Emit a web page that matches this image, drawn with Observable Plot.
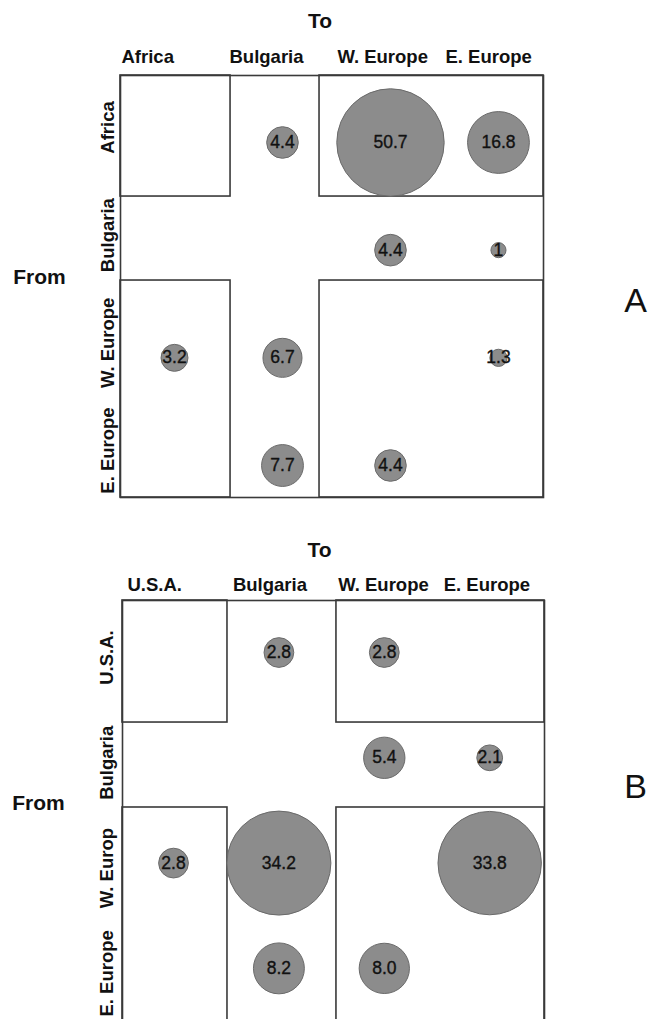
<!DOCTYPE html>
<html><head><meta charset="utf-8">
<script src="https://cdn.jsdelivr.net/npm/d3@7"></script>
<script src="https://cdn.jsdelivr.net/npm/@observablehq/plot@0.6"></script>
<style>
html,body{margin:0;padding:0;background:#fff;overflow:hidden}
#chart svg{display:block;overflow:hidden !important;background:#fff}
</style></head><body><div id="chart"></div>
<script>
// ---- Panel A data ----
const colsA = ["Africa", "Bulgaria", "W. Europe", "E. Europe"];
const rowsA = ["Africa", "Bulgaria", "W. Europe", "E. Europe"];
const fromA = ["Africa", "Africa", "Africa", "Bulgaria", "Bulgaria", "W. Europe", "W. Europe", "W. Europe", "E. Europe", "E. Europe"];
const toA   = ["Bulgaria", "W. Europe", "E. Europe", "W. Europe", "E. Europe", "Africa", "Bulgaria", "E. Europe", "Bulgaria", "W. Europe"];
const valuesA = ["4.4", "50.7", "16.8", "4.4", "1", "3.2", "6.7", "1.3", "7.7", "4.4"];

// ---- Panel B data ----
const colsB = ["U.S.A.", "Bulgaria", "W. Europe", "E. Europe"];
const rowsB = ["U.S.A.", "Bulgaria", "W. Europ", "E. Europe"];
const fromB = ["U.S.A.", "U.S.A.", "Bulgaria", "Bulgaria", "W. Europ", "W. Europ", "W. Europ", "E. Europe", "E. Europe"];
const toB   = ["Bulgaria", "W. Europe", "W. Europe", "E. Europe", "U.S.A.", "Bulgaria", "E. Europe", "Bulgaria", "W. Europe"];
const valuesB = ["2.8", "2.8", "5.4", "2.1", "2.8", "34.2", "33.8", "8.2", "8.0"];

const FONT = "'Liberation Sans', Arial, Helvetica, sans-serif";
const LINE = "#3a3a3a";

function panel(cfg) {
  const data = cfg.from.map((f, i) => ({
    row: cfg.rows.indexOf(f),
    col: cfg.cols.indexOf(cfg.to[i]),
    label: cfg.values[i],
    value: +cfg.values[i]
  }));
  const L = cfg.layout;
  const [x0, x3] = L.xDomain, [y0, y3] = L.yDomain;
  const [xa, xb] = L.xDiv, [ya, yb] = L.yDiv;
  const quads = [
    {x1: x0, x2: xa, y1: y0, y2: ya},
    {x1: xb, x2: x3, y1: y0, y2: ya},
    {x1: x0, x2: xa, y1: yb, y2: y3},
    {x1: xb, x2: x3, y1: yb, y2: y3}
  ];
  const colData = cfg.cols.map((c, i) => ({i, c}));
  const rowData = cfg.rows.map((r, i) => ({i, r}));
  return Plot.plot({
    width: 650,
    height: L.height,
    marginLeft: L.ml, marginRight: L.mr, marginTop: L.mt, marginBottom: L.mb,
    style: {fontFamily: FONT, background: "#fff"},
    x: {type: "linear", domain: L.xDomain, axis: null},
    y: {type: "linear", domain: L.yDomain, reverse: true, axis: null},
    r: {type: "sqrt", domain: [0, cfg.rMax], range: [0, L.rPx]},
    marks: [
      Plot.frame({stroke: LINE, strokeWidth: 1.6}),
      Plot.rect(quads, {x1: "x1", x2: "x2", y1: "y1", y2: "y2", fill: "none", stroke: LINE, strokeWidth: 1.6}),
      Plot.dot(data, {x: "col", y: "row", r: "value", fill: "#8c8c8c", stroke: "#6a6a6a", strokeWidth: 1, fillOpacity: 1}),
      Plot.text(data, {x: "col", y: "row", text: "label", fontSize: 17.5, fill: "#111", stroke: "#111", strokeWidth: 0.35, lineAnchor: "middle"}),
      Plot.text(colData, {x: "i", text: "c", frameAnchor: "top", textAnchor: "start", lineAnchor: "bottom",
        dx: L.colDx, dy: L.colDy, fontSize: 18.5, fontWeight: "bold", fill: "#111"}),
      Plot.text(rowData, {y: "i", text: "r", frameAnchor: "left", rotate: -90, textAnchor: "middle", lineAnchor: "bottom",
        dx: L.rowDx, dy: L.rowDy, fontSize: 18.5, fontWeight: "bold", fill: "#111"}),
      Plot.text(["To"], {text: d => d, frameAnchor: "top", lineAnchor: "bottom", dx: L.toDx, dy: L.toDy,
        fontSize: 21, fontWeight: "bold", fill: "#111"}),
      Plot.text(["From"], {text: d => d, frameAnchor: "left", textAnchor: "middle", lineAnchor: "middle", dx: L.fromDx, dy: L.fromDy,
        fontSize: 21, fontWeight: "bold", fill: "#111"}),
      Plot.text([cfg.tag], {text: d => d, frameAnchor: "right", textAnchor: "middle", lineAnchor: "middle", dx: L.tagDx, dy: L.tagDy,
        fontSize: 34, fill: "#111"})
    ]
  });
}

const chart = document.getElementById("chart");
chart.appendChild(panel({
  cols: colsA, rows: rowsA, from: fromA, to: toA, values: valuesA, tag: "A",
  rMax: 50.7,
  layout: {
    height: 515, ml: 120, mr: 107, mt: 75, mb: 18,
    xDomain: [-0.5, 3.417], yDomain: [-0.622, 3.297],
    xDiv: [0.519, 1.343], yDiv: [0.502, 1.282],
    rPx: 53.7,
    colDx: -53, colDy: -13,
    rowDx: -7, rowDy: -15,
    toDx: -12, toDy: -48,
    fromDx: -81, fromDy: -9,
    tagDx: 92, tagDy: 15
  }
}));
chart.appendChild(panel({
  cols: colsB, rows: rowsB, from: fromB, to: toB, values: valuesB, tag: "B",
  rMax: 34.2,
  layout: {
    height: 504, ml: 122, mr: 106, mt: 85, mb: -3,
    xDomain: [-0.484, 3.52], yDomain: [-0.494, 3.514],
    xDiv: [0.512, 1.546], yDiv: [0.665, 1.472],
    rPx: 52,
    colDx: -46, colDy: -10,
    rowDx: -10, rowDy: 5,
    toDx: -14, toDy: -44,
    fromDx: -84, fromDy: -8,
    tagDx: 91, tagDy: -24
  }
}));
</script></body></html>
